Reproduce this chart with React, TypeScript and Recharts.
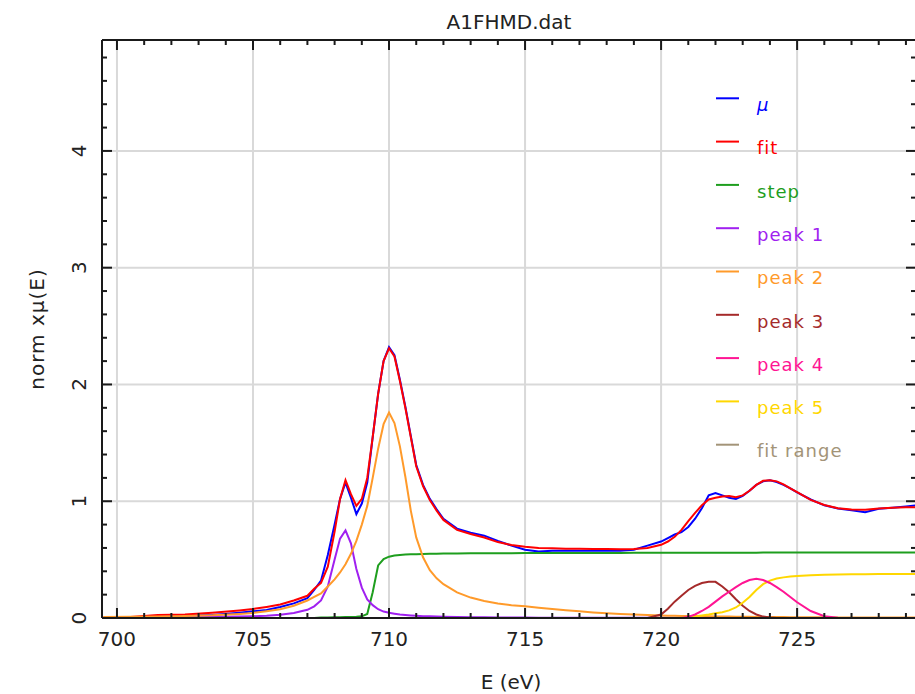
import { CartesianGrid, Legend, Line, LineChart, XAxis, YAxis } from "recharts";

// energy grid (eV) shared by most series
const ENERGY = [
  699.5, 700.5, 701.5, 702.5, 703.5, 704.5, 705, 705.5, 706, 706.5,
  707, 707.25, 707.5, 707.75, 708, 708.2, 708.4, 708.6, 708.8, 709,
  709.2, 709.4, 709.6, 709.8, 710, 710.2, 710.4, 710.6, 710.8, 711,
  711.25, 711.5, 711.75, 712, 712.5, 713, 713.5, 714, 714.5, 715,
  715.5, 716, 716.5, 717, 717.5, 718, 718.5, 719, 719.5, 720,
  720.25, 720.5, 720.75, 721, 721.25, 721.5, 721.75, 722, 722.25, 722.5,
  722.75, 723, 723.25, 723.5, 723.75, 724, 724.25, 724.5, 724.75, 725,
  725.5, 726, 726.5, 727, 727.5, 728, 728.5, 729, 729.4,
];

const MU = [
  0.0, 0.005, 0.01, 0.02, 0.025, 0.045, 0.057, 0.068, 0.094, 0.125,
  0.17, 0.24, 0.32, 0.54, 0.8, 1.02, 1.16, 1.03, 0.89, 0.98,
  1.16, 1.55, 1.92, 2.2, 2.32, 2.25, 2.04, 1.81, 1.56, 1.31,
  1.14, 1.02, 0.93, 0.85, 0.765, 0.73, 0.705, 0.66, 0.62, 0.585,
  0.57, 0.575, 0.575, 0.575, 0.575, 0.575, 0.575, 0.585, 0.62, 0.655,
  0.685, 0.715, 0.735, 0.78, 0.85, 0.94, 1.05, 1.07, 1.05, 1.03,
  1.02, 1.045, 1.09, 1.14, 1.17, 1.18, 1.165, 1.14, 1.11, 1.075,
  1.015, 0.965, 0.937, 0.922, 0.905, 0.935, 0.945, 0.955, 0.965,
];

const FIT = [
  0.005, 0.008, 0.025, 0.03, 0.045, 0.065, 0.077, 0.095, 0.115, 0.15,
  0.19, 0.25, 0.3, 0.44, 0.74, 1.02, 1.18, 1.06, 0.96, 1.02,
  1.2, 1.55, 1.92, 2.2, 2.31, 2.24, 2.03, 1.8, 1.55, 1.3,
  1.13, 1.01, 0.92, 0.84, 0.755, 0.72, 0.69, 0.65, 0.625, 0.61,
  0.6, 0.597, 0.594, 0.592, 0.59, 0.59, 0.588, 0.59, 0.6, 0.627,
  0.655, 0.695, 0.755, 0.83, 0.9, 0.965, 1.015, 1.03, 1.04, 1.045,
  1.035, 1.05, 1.09, 1.14, 1.175, 1.18, 1.17, 1.145, 1.11, 1.077,
  1.012, 0.968, 0.94, 0.93, 0.928, 0.938, 0.945, 0.948, 0.948,
];

const STEP = [
  0, 0, 0, 0, 0, 0, 0, 0, 0, 0,
  0, 0, 0.004, 0.005, 0.006, 0.007, 0.008, 0.009, 0.01, 0.014,
  0.035, 0.22, 0.45, 0.505, 0.525, 0.535, 0.54, 0.543, 0.545, 0.547,
  0.548, 0.55, 0.551, 0.552, 0.553, 0.554, 0.555, 0.555, 0.555, 0.556,
  0.556, 0.556, 0.556, 0.557, 0.557, 0.557, 0.557, 0.558, 0.558, 0.558,
  0.558, 0.558, 0.558, 0.558, 0.559, 0.559, 0.559, 0.559, 0.559, 0.559,
  0.559, 0.559, 0.559, 0.559, 0.56, 0.56, 0.56, 0.56, 0.56, 0.56,
  0.56, 0.56, 0.56, 0.56, 0.56, 0.56, 0.56, 0.56, 0.56,
];

const PEAK1 = [
  0.002, 0.003, 0.004, 0.006, 0.008, 0.012, 0.015, 0.02, 0.028, 0.042,
  0.07, 0.1, 0.15, 0.27, 0.5, 0.68, 0.75, 0.64, 0.42, 0.26,
  0.16, 0.11, 0.075, 0.055, 0.045, 0.037, 0.03, 0.026, 0.022, 0.019,
  0.016, 0.014, 0.012, 0.011, 0.009, 0.007, 0.006, 0.005, 0.004, 0.004,
  0.003, 0.003, 0.003, 0.003, 0.002, 0.002, 0.002, 0.002, 0.002, 0.002,
  0.002, 0.002, 0.002, 0.001, 0.001, 0.001, 0.001, 0.001, 0.001, 0.001,
  0.001, 0.001, 0.001, 0.001, 0.001, 0.001, 0.001, 0.001, 0.001, 0.001,
  0.001, 0.001, 0.001, 0.001, 0.001, 0.001, 0.001, 0.001, 0.001,
];

const PEAK2 = [
  0.008, 0.01, 0.013, 0.017, 0.023, 0.035, 0.043, 0.058, 0.075, 0.105,
  0.15, 0.18, 0.21, 0.27, 0.33, 0.39, 0.46, 0.55, 0.66, 0.8,
  0.96, 1.2, 1.45, 1.66, 1.76, 1.67, 1.47, 1.21, 0.92, 0.69,
  0.52, 0.41, 0.34, 0.29, 0.22, 0.175, 0.145, 0.125, 0.11, 0.1,
  0.088, 0.077, 0.067, 0.057, 0.048, 0.041, 0.035, 0.03, 0.026, 0.022,
  0.02, 0.019, 0.018, 0.017, 0.016, 0.015, 0.014, 0.013, 0.012, 0.012,
  0.011, 0.01, 0.01, 0.009, 0.009, 0.008, 0.008, 0.008, 0.007, 0.007,
  0.006, 0.006, 0.005, 0.005, 0.005, 0.004, 0.004, 0.004, 0.004,
];

const PEAK3 = [
  0, 0, 0, 0, 0, 0, 0, 0, 0, 0,
  0, 0, 0, 0, 0, 0, 0, 0, 0, 0,
  0, 0, 0, 0, 0, 0, 0, 0, 0, 0,
  0, 0, 0, 0, 0, 0, 0, 0, 0, 0,
  0, 0, 0, 0, 0, 0, 0, 0, 0, 0.03,
  0.08, 0.14, 0.19, 0.24, 0.275, 0.3, 0.31, 0.31, 0.27, 0.22,
  0.16, 0.105, 0.06, 0.03, 0.012, 0.005, 0, 0, 0, 0,
  0, 0, 0, 0, 0, 0, 0, 0, 0,
];

const PEAK5 = [
  0, 0, 0, 0, 0, 0, 0, 0, 0, 0,
  0, 0, 0, 0, 0, 0, 0, 0, 0, 0,
  0, 0, 0, 0, 0, 0, 0, 0, 0, 0,
  0, 0, 0, 0, 0, 0, 0, 0, 0, 0,
  0, 0, 0, 0, 0, 0, 0, 0, 0, 0,
  0, 0, 0, 0.008, 0.015, 0.022, 0.03, 0.04, 0.05, 0.065,
  0.09, 0.13, 0.18, 0.24, 0.29, 0.32, 0.338, 0.348, 0.355, 0.36,
  0.366, 0.37, 0.372, 0.374, 0.375, 0.376, 0.376, 0.377, 0.377,
];

// peak 4 is only drawn over the upper part of the range
const PEAK4_ENERGY = [
  717, 717.5, 718, 718.5, 719, 719.5, 720, 720.25, 720.5, 720.75,
  721, 721.25, 721.5, 721.75, 722, 722.25, 722.5, 722.75, 723, 723.25,
  723.5, 723.75, 724, 724.25, 724.5, 724.75, 725, 725.5, 726, 726.5,
  727, 727.5, 728, 728.5, 729, 729.4,
];
const PEAK4 = [
  0, 0, 0, 0, 0, 0, 0, 0, 0, 0,
  0.01, 0.03, 0.06, 0.095, 0.14, 0.185, 0.225, 0.265, 0.3, 0.325,
  0.335, 0.325, 0.3, 0.265, 0.225, 0.18, 0.135, 0.06, 0.015, 0.002,
  0, 0, 0, 0, 0, 0,
];

const X_TICKS = [
  700, 701, 702, 703, 704, 705, 706, 707, 708, 709, 710, 711, 712, 713, 714,
  715, 716, 717, 718, 719, 720, 721, 722, 723, 724, 725, 726, 727, 728, 729,
];
const Y_TICKS = [
  0, 0.2, 0.4, 0.6, 0.8, 1, 1.2, 1.4, 1.6, 1.8, 2, 2.2, 2.4, 2.6, 2.8,
  3, 3.2, 3.4, 3.6, 3.8, 4, 4.2, 4.4, 4.6, 4.8,
];
const X_GRID = [700, 705, 710, 715, 720, 725];
const Y_GRID = [1, 2, 3, 4];

const LEGEND_ITEMS = [
  { name: "μ", color: "#0000ff" },
  { name: "fit", color: "#ff0000" },
  { name: "step", color: "#1e9e1e" },
  { name: "peak 1", color: "#a020f0" },
  { name: "peak 2", color: "#ff9a2a" },
  { name: "peak 3", color: "#a52a2a" },
  { name: "peak 4", color: "#ff1493" },
  { name: "peak 5", color: "#ffd700" },
  { name: "fit range", color: "#a39478" },
];

const W = 918;
const H = 694;
const PLOT_LEFT = 102;
const PLOT_TOP = 40;
const PLOT_RIGHT = 916;
const PLOT_BOTTOM = 618;
const TOP_AXIS_H = 20;
const RIGHT_AXIS_W = 2;
const AXIS = "#1a1a1a";
const FONT = "DejaVu Sans, Verdana, sans-serif";

const rows = ENERGY.map((e, i) => ({
  e,
  mu: MU[i],
  fit: FIT[i],
  step: STEP[i],
  p1: PEAK1[i],
  p2: PEAK2[i],
  p3: PEAK3[i],
  p5: PEAK5[i],
}));
const peak4Rows = PEAK4_ENERGY.map((e, i) => ({ e, p4: PEAK4[i] }));

const isMajorX = (v: number) => v % 5 === 0;
const isMajorY = (v: number) => Math.abs(v - Math.round(v)) < 1e-6;

function BottomTick({ x, payload }: any) {
  const v = payload.value;
  const major = isMajorX(v);
  return (
    <g>
      <line x1={x} x2={x} y1={PLOT_BOTTOM} y2={PLOT_BOTTOM - (major ? 10 : 5)} stroke={AXIS} strokeWidth={2} />
      {major && (
        <text x={x} y={646} textAnchor="middle" fontFamily={FONT} fontSize={20} fill="#222">
          {v}
        </text>
      )}
    </g>
  );
}

function TopTick({ x, payload }: any) {
  const major = isMajorX(payload.value);
  return <line x1={x} x2={x} y1={PLOT_TOP} y2={PLOT_TOP + (major ? 10 : 5)} stroke={AXIS} strokeWidth={2} />;
}

function LeftTick({ y, payload }: any) {
  const v = payload.value;
  const major = isMajorY(v);
  return (
    <g>
      <line x1={PLOT_LEFT} x2={PLOT_LEFT + (major ? 10 : 5)} y1={y} y2={y} stroke={AXIS} strokeWidth={2} />
      {major && (
        <text
          x={86}
          y={y}
          transform={`rotate(-90 86 ${y})`}
          textAnchor="middle"
          fontFamily={FONT}
          fontSize={20}
          fill="#222"
        >
          {Math.round(v)}
        </text>
      )}
    </g>
  );
}

function RightTick({ y, payload }: any) {
  const major = isMajorY(payload.value);
  return <line x1={PLOT_RIGHT} x2={PLOT_RIGHT - (major ? 10 : 5)} y1={y} y2={y} stroke={AXIS} strokeWidth={2} />;
}

function FitLegend() {
  const left = 700;
  const top = 70;
  return (
    <svg width={215} height={400} style={{ display: "block" }}>
      {LEGEND_ITEMS.map((item, i) => {
        const y = 98.3 + i * 43.3 - top;
        return (
          <g key={item.name}>
            <line x1={716 - left} x2={739 - left} y1={y} y2={y} stroke={item.color} strokeWidth={2} />
            <text
              x={757 - left}
              y={y + 12.7}
              fill={item.color}
              fontFamily={FONT}
              fontSize={18}
              letterSpacing={1}
              fontStyle={item.name === "μ" ? "italic" : "normal"}
            >
              {item.name}
            </text>
          </g>
        );
      })}
    </svg>
  );
}

export default function App() {
  return (
    <div style={{ position: "fixed", left: 0, top: 0, width: 915, height: 694, overflow: "hidden", background: "#fff" }}>
      <LineChart
        width={W}
        height={H}
        data={rows}
        margin={{ top: PLOT_TOP - TOP_AXIS_H, right: W - PLOT_RIGHT - RIGHT_AXIS_W, left: 0, bottom: 0 }}
      >
        <CartesianGrid
          xAxisId="b"
          yAxisId="l"
          verticalValues={X_GRID}
          horizontalValues={Y_GRID}
          stroke="#d9d9d9"
          strokeWidth={2}
        />
        <XAxis
          xAxisId="b"
          dataKey="e"
          type="number"
          domain={[699.45, 729.37]}
          allowDataOverflow
          ticks={X_TICKS}
          interval={0}
          height={H - PLOT_BOTTOM}
          tickLine={false}
          axisLine={{ stroke: AXIS, strokeWidth: 2 }}
          tick={<BottomTick />}
          label={{
            content: () => (
              <text x={511} y={689} textAnchor="middle" fontFamily={FONT} fontSize={20} fill="#222">
                E (eV)
              </text>
            ),
          }}
        />
        <XAxis
          xAxisId="t"
          orientation="top"
          dataKey="e"
          type="number"
          domain={[699.45, 729.37]}
          allowDataOverflow
          ticks={X_TICKS}
          interval={0}
          height={TOP_AXIS_H}
          tickLine={false}
          axisLine={{ stroke: AXIS, strokeWidth: 2 }}
          tick={<TopTick />}
          label={{
            content: () => (
              <text x={509} y={29} textAnchor="middle" fontFamily={FONT} fontSize={20} fill="#222">
                A1FHMD.dat
              </text>
            ),
          }}
        />
        <YAxis
          yAxisId="l"
          type="number"
          domain={[0, 4.95]}
          allowDataOverflow
          ticks={Y_TICKS}
          interval={0}
          width={PLOT_LEFT}
          tickLine={false}
          axisLine={{ stroke: AXIS, strokeWidth: 2 }}
          tick={<LeftTick />}
          label={{
            content: () => (
              <text
                x={44}
                y={329}
                transform="rotate(-90 44 329)"
                textAnchor="middle"
                fontFamily={FONT}
                fontSize={20}
                letterSpacing={1}
                fill="#222"
              >
                norm xμ(E)
              </text>
            ),
          }}
        />
        <YAxis
          yAxisId="r"
          orientation="right"
          type="number"
          domain={[0, 4.95]}
          allowDataOverflow
          ticks={Y_TICKS}
          interval={0}
          width={RIGHT_AXIS_W}
          tickLine={false}
          axisLine={{ stroke: AXIS, strokeWidth: 2 }}
          tick={<RightTick />}
        />
        <Legend
          layout="horizontal"
          verticalAlign="middle"
          align="center"
          wrapperStyle={{ left: 700, top: 70, width: 215, height: 400 }}
          content={<FitLegend />}
        />
        <Line xAxisId="b" yAxisId="l" type="linear" dataKey="mu" stroke="#0000ff" strokeWidth={2} dot={false} isAnimationActive={false} />
        <Line xAxisId="b" yAxisId="l" type="linear" dataKey="fit" stroke="#ff0000" strokeWidth={2} dot={false} isAnimationActive={false} />
        <Line xAxisId="b" yAxisId="l" type="linear" dataKey="step" stroke="#1e9e1e" strokeWidth={2} dot={false} isAnimationActive={false} />
        <Line xAxisId="b" yAxisId="l" type="linear" dataKey="p1" stroke="#a020f0" strokeWidth={2} dot={false} isAnimationActive={false} />
        <Line xAxisId="b" yAxisId="l" type="linear" dataKey="p2" stroke="#ff9a2a" strokeWidth={2} dot={false} isAnimationActive={false} />
        <Line xAxisId="b" yAxisId="l" type="linear" dataKey="p3" stroke="#a52a2a" strokeWidth={2} dot={false} isAnimationActive={false} />
        <Line xAxisId="b" yAxisId="l" type="linear" dataKey="p5" stroke="#ffd700" strokeWidth={2} dot={false} isAnimationActive={false} />
        <Line
          xAxisId="b"
          yAxisId="l"
          type="linear"
          data={peak4Rows}
          dataKey="p4"
          stroke="#ff1493"
          strokeWidth={2}
          dot={false}
          isAnimationActive={false}
        />
      </LineChart>
    </div>
  );
}
